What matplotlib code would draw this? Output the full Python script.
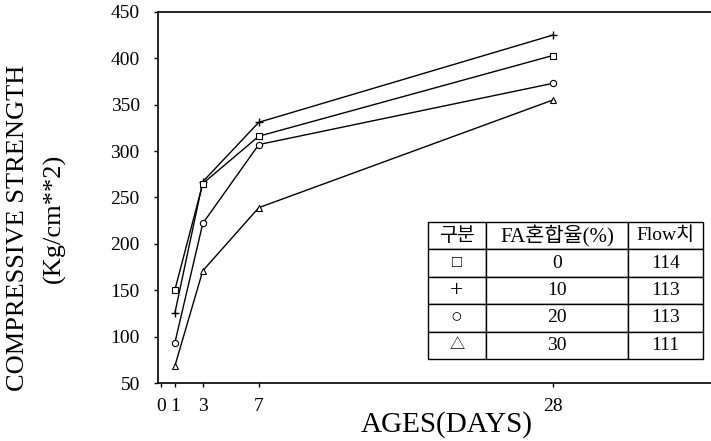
import matplotlib
matplotlib.use("Agg")
import matplotlib.pyplot as plt

plt.rcParams['font.family'] = ['Liberation Serif', 'Noto Sans CJK KR', 'DejaVu Sans']

# Data
days = [1, 3, 7, 28]
fa0 = [150, 265, 316, 403]    # square
fa10 = [125, 267, 331, 425]   # plus
fa20 = [93, 222, 307, 373]    # circle
fa30 = [68, 171, 239, 355]    # triangle

x_ticks = [0, 1, 3, 7, 28]
y_ticks = [50, 100, 150, 200, 250, 300, 350, 400, 450]

table_header = ['구분', 'FA혼합율(%)', 'Flow치']
table_symbols = ['□', '+', '○', '△']
table_fa = ['0', '10', '20', '30']
table_flow = ['114', '113', '113', '111']

fig = plt.figure(figsize=(7.11, 4.41), dpi=100)
ax = fig.add_axes([0.222, 0.1315, 0.778, 0.8415])

ax.plot(days, fa10, color='black', lw=1.0, marker='+', ms=6, mew=1.0)
ax.plot(days, fa0, color='black', lw=1.0, marker='s', ms=4.5, mfc='white', mew=0.8)
ax.plot(days, fa20, color='black', lw=1.0, marker='o', ms=4.5, mfc='white', mew=0.8)
ax.plot(days, fa30, color='black', lw=1.0, marker='^', ms=4.5, mfc='white', mew=0.8)

ax.set_xlim(-0.21, 39.3)
ax.set_ylim(50, 450)
ax.set_xticks(x_ticks)
ax.set_yticks(y_ticks)
ax.tick_params(axis='both', direction='out', length=3, width=1, labelsize=14)
ax.tick_params(axis='x', pad=8)
ax.tick_params(axis='y', pad=10)
ax.spines['right'].set_visible(False)
for s in ['top', 'left', 'bottom']:
    ax.spines[s].set_linewidth(1.2)

fig.text(447 / 711, 1 - 425 / 441, 'AGES(DAYS)', fontsize=21,
         ha='center', va='center')
fig.text(18 / 711, 1 - 228 / 441, 'COMPRESSIVE STRENGTH', rotation=90,
         fontsize=19, ha='center', va='center')
fig.text(54 / 711, 1 - 218 / 441, '(Kg/cm**2)', rotation=90, fontsize=19,
         ha='center', va='center')

rows = [[s, f, q] for s, f, q in zip(table_symbols, table_fa, table_flow)]
tbl = ax.table(cellText=rows, colLabels=table_header, cellLoc='center',
               colWidths=[58, 142, 75], bbox=[0.488, 0.0647, 0.4975, 0.3693])
tbl.auto_set_font_size(False)
symbol_sizes = {'□': 12, '+': 17, '○': 14, '△': 11}
for (r, c), cell in tbl.get_celld().items():
    cell.set_linewidth(1.0)
    cell.set_edgecolor('black')
    cell.set_facecolor('white')
    txt = cell.get_text()
    txt.set_fontsize(14)
    if r == 0 and c == 1:
        txt.set_fontsize(15)
    if r > 0 and c == 0:
        txt.set_fontsize(symbol_sizes[txt.get_text()])

fig.savefig('out.png', dpi=100)
